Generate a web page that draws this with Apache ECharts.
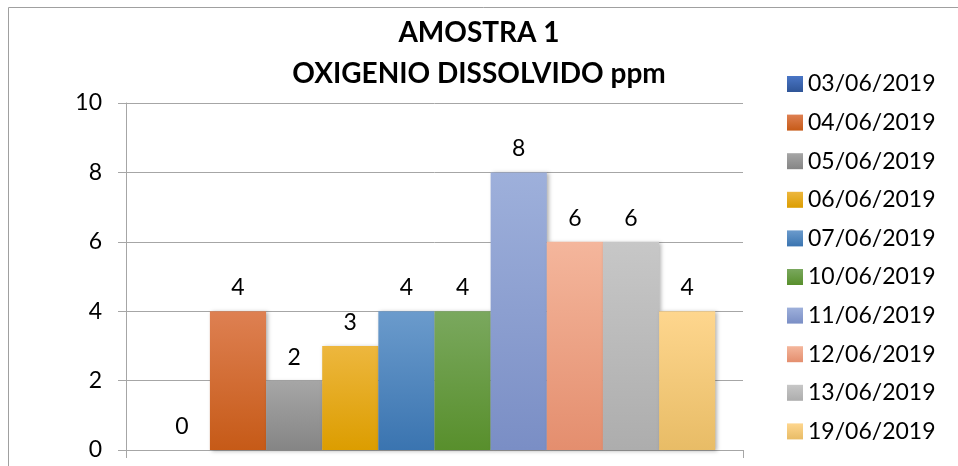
<!DOCTYPE html>
<html>
<head>
<meta charset="utf-8">
<script src="https://cdn.jsdelivr.net/npm/echarts@6/dist/echarts.min.js"></script>
<style>
  html, body { margin: 0; padding: 0; background: #fff; }
  #chart { width: 958px; height: 466px; }
</style>
</head>
<body>
<div id="chart"></div>
<script>
// dates (one series each) and dissolved oxygen values
const dates = ['03/06/2019', '04/06/2019', '05/06/2019', '06/06/2019', '07/06/2019',
  '10/06/2019', '11/06/2019', '12/06/2019', '13/06/2019', '19/06/2019'];
const values = [0, 4, 2, 3, 4, 4, 8, 6, 6, 4];
const yTicks = [0, 2, 4, 6, 8, 10];

// top / bottom colour of each bar gradient
const topColors = ['#4a76c6', '#de8052', '#a6a6a6', '#edb73e', '#6b9bcc', '#7aa85e', '#9eb0db', '#f4b69c', '#c7c7c7', '#fed68e'];
const bottomColors = ['#2f5597', '#c65a17', '#858585', '#dc9d00', '#3a74b0', '#588f2c', '#7a8ec5', '#e48e6e', '#adadad', '#e8bc66'];

const font = 'Lato, "Noto Sans", sans-serif';
const gray = '#a6a6a6';

const series = dates.map((d, i) => ({
  name: d,
  type: 'bar',
  data: [values[i]],
  barGap: '0%',
  barCategoryGap: '9%',
  itemStyle: {
    color: new echarts.graphic.LinearGradient(0, 0, 0, 1, [
      { offset: 0, color: topColors[i] },
      { offset: 1, color: bottomColors[i] }
    ]),
    shadowBlur: 4,
    shadowOffsetX: 2,
    shadowOffsetY: 1,
    shadowColor: 'rgba(0,0,0,0.3)'
  },
  label: {
    show: true,
    position: 'top',
    distance: 12,
    color: '#000',
    fontFamily: font,
    fontSize: 23
  }
}));

const chart = echarts.init(document.getElementById('chart'));
chart.setOption({
  animation: false,
  title: {
    text: 'AMOSTRA 1\nOXIGENIO DISSOLVIDO ppm',
    left: 'center',
    top: 7,
    textStyle: {
      fontFamily: font,
      fontWeight: 'bold',
      fontSize: 28,
      lineHeight: 41,
      color: '#000'
    }
  },
  graphic: [{
    type: 'rect',
    shape: { x: 8.5, y: 7.5, width: 1000, height: 500 },
    style: { fill: 'none', stroke: '#a0a0a0', lineWidth: 1 },
    z: -1
  }],
  legend: {
    orient: 'vertical',
    left: 782,
    top: 67,
    icon: 'rect',
    itemWidth: 16,
    itemHeight: 16,
    itemGap: 14.6,
    textStyle: {
      fontFamily: font,
      fontSize: 23,
      lineHeight: 24,
      color: '#000',
      padding: [0, 0, 0, 0]
    },
    data: dates
  },
  grid: { left: 126, right: 215, top: 103, bottom: 16, containLabel: false },
  xAxis: {
    type: 'category',
    data: [''],
    axisLine: { lineStyle: { color: gray } },
    axisTick: { show: true, length: 8, lineStyle: { color: gray } },
    axisLabel: { show: false }
  },
  yAxis: {
    type: 'value',
    min: yTicks[0],
    max: yTicks[yTicks.length - 1],
    interval: yTicks[1] - yTicks[0],
    axisLine: { show: true, lineStyle: { color: gray } },
    axisTick: { show: true, length: 8, lineStyle: { color: gray } },
    splitLine: { lineStyle: { color: gray } },
    axisLabel: { fontFamily: font, fontSize: 23, color: '#000', margin: 24 }
  },
  series: series
});
</script>
</body>
</html>
